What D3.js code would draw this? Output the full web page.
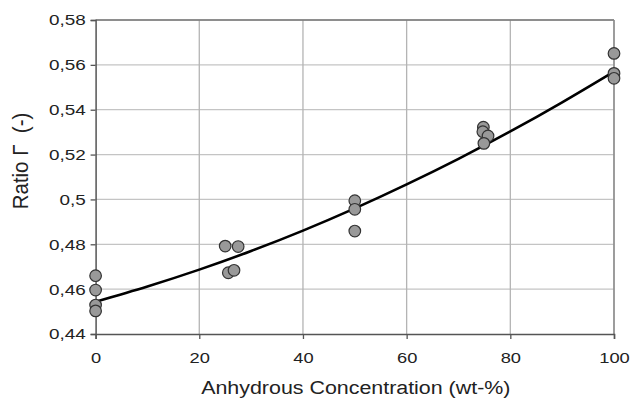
<!DOCTYPE html>
<html>
<head>
<meta charset="utf-8">
<script src="https://cdn.jsdelivr.net/npm/d3@7"></script>
<style>
  html, body { margin: 0; padding: 0; background: #fff; }
  svg { display: block; font-family: "Liberation Sans", Arial, sans-serif; }
</style>
</head>
<body>
<svg id="chart" width="631" height="399"></svg>
<script>
// Measured points
const pointX = [0, 0, 0, 0, 25, 27.5, 25.6, 26.7, 50, 50, 50, 74.8, 74.7, 75.7, 74.9, 100, 100, 100];
const pointY = [0.466, 0.4596, 0.4529, 0.4503, 0.4792, 0.4790, 0.4673, 0.4684, 0.4994, 0.4956, 0.4859, 0.5322, 0.5302, 0.5283, 0.5250, 0.5651, 0.5562, 0.5540];
// Fitted trend curve
const curveX = [0, 10, 20, 30, 40, 50, 60, 70, 80, 90, 100];
const curveY = [0.4544, 0.4612, 0.4687, 0.4770, 0.4861, 0.4960, 0.5067, 0.5181, 0.5303, 0.5433, 0.5570];
// Ticks
const xTicks = [0, 20, 40, 60, 80, 100];
const yTicks = [0.44, 0.46, 0.48, 0.50, 0.52, 0.54, 0.56, 0.58];
const yTickLabels = ["0,44", "0,46", "0,48", "0,5", "0,52", "0,54", "0,56", "0,58"];

const svg = d3.select("#chart");
const mLeft = 95.6, mRight = 614, mTop = 20, mBottom = 334;
const stretch = 1.22;

const x = d3.scaleLinear().domain([0, 100]).range([mLeft, mRight]);
const y = d3.scaleLinear().domain([0.44, 0.58]).range([mBottom, mTop]);

// Gridlines
svg.append("g").selectAll("line").data(yTicks.slice(1)).join("line")
  .attr("x1", mLeft).attr("x2", mRight)
  .attr("y1", d => y(d)).attr("y2", d => y(d))
  .attr("stroke", "#c4c4c4").attr("stroke-width", 1.3);
svg.append("g").selectAll("line").data(xTicks.slice(1)).join("line")
  .attr("y1", mTop).attr("y2", mBottom)
  .attr("x1", d => x(d)).attr("x2", d => x(d))
  .attr("stroke", "#b4b4b4").attr("stroke-width", 1.3);

// Top / right border
svg.append("line").attr("x1", mLeft).attr("x2", mRight).attr("y1", mTop).attr("y2", mTop)
  .attr("stroke", "#777").attr("stroke-width", 1.5);
svg.append("line").attr("x1", mRight).attr("x2", mRight).attr("y1", mTop).attr("y2", mBottom)
  .attr("stroke", "#888").attr("stroke-width", 1.4);

// Axes
const xAxis = d3.axisBottom(x).tickValues(xTicks).tickSize(5).tickPadding(13).tickFormat(d3.format("d"));
const gx = svg.append("g").attr("transform", `translate(0,${mBottom})`).call(xAxis);
gx.select(".domain").attr("stroke", "#555").attr("stroke-width", 1.5);
gx.selectAll(".tick line").attr("stroke", "#555").attr("stroke-width", 1.3);
gx.selectAll("text").attr("font-size", 15).attr("fill", "#222")
  .attr("transform", `scale(${stretch},1)`);

const yAxis = d3.axisLeft(y).tickValues(yTicks).tickSize(5).tickPadding(3)
  .tickFormat((d, i) => yTickLabels[i]);
const gy = svg.append("g").attr("transform", `translate(${mLeft},0)`).call(yAxis);
gy.select(".domain").attr("stroke", "#555").attr("stroke-width", 1.5);
gy.selectAll(".tick line").attr("stroke", "#555").attr("stroke-width", 1.3);
gy.selectAll("text").attr("font-size", 15.5).attr("fill", "#222")
  .attr("transform", `scale(${stretch},1)`);

// Axis titles
svg.append("text")
  .attr("transform", `translate(${(mLeft + mRight) / 2 + 1},394) scale(1.19,1)`)
  .attr("text-anchor", "middle").attr("font-size", 18).attr("fill", "#222")
  .text("Anhydrous Concentration (wt-%)");
svg.append("text")
  .attr("transform", `translate(27.5,161) rotate(-90) scale(1.05,1.15)`)
  .attr("text-anchor", "middle").attr("font-size", 19.5).attr("fill", "#222")
  .style("white-space", "pre")
  .text("Ratio \u0393  (-)");

// Trend curve
const line = d3.line().x(d => x(d[0])).y(d => y(d[1])).curve(d3.curveNatural);
svg.append("path").datum(curveX.map((v, i) => [v, curveY[i]]))
  .attr("d", line).attr("fill", "none").attr("stroke", "#000").attr("stroke-width", 2.6);

// Points
svg.append("g").selectAll("circle").data(pointX.map((v, i) => [v, pointY[i]])).join("circle")
  .attr("cx", d => x(d[0])).attr("cy", d => y(d[1])).attr("r", 5.8)
  .attr("fill", "#999").attr("stroke", "#333").attr("stroke-width", 1.2);
</script>
</body>
</html>
